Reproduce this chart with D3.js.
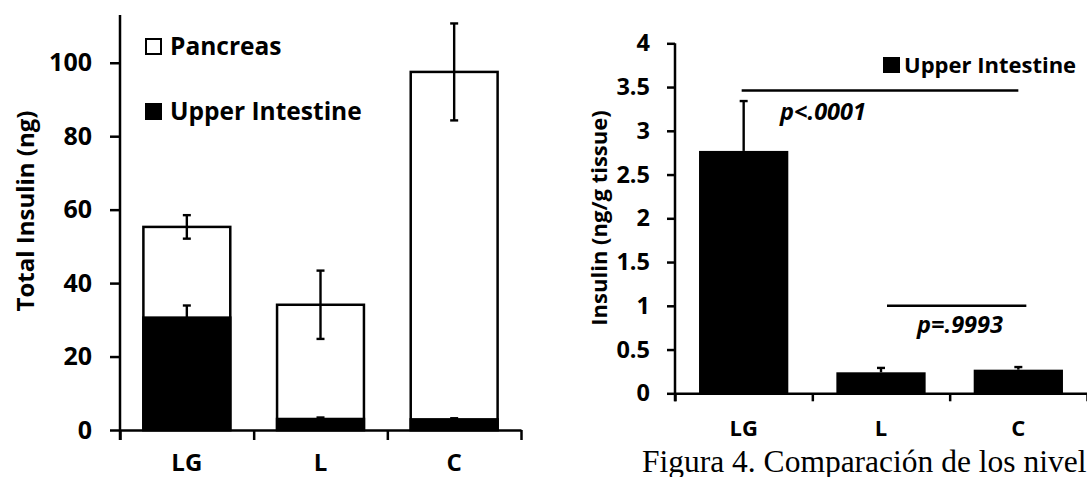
<!DOCTYPE html>
<html>
<head>
<meta charset="utf-8">
<script src="https://cdn.jsdelivr.net/npm/d3@7"></script>
<style>
  html, body { margin: 0; padding: 0; background: #fff; }
  svg { display: block; }
  text { font-family: "Open Sans", "DejaVu Sans", sans-serif; font-weight: bold; fill: #000; }
</style>
</head>
<body>
<svg id="chart" width="1087" height="477"></svg>
<script>
// ---------- data ----------
const categories = ["LG", "L", "C"];
// Left panel: total insulin (ng), stacked
const intestineTotal = [30.6, 3.0, 2.9];
const pancreasTotal = [24.7, 31.1, 94.6];
const intestineTotalErr = [3.3, 0.4, 0.3];
const sumErr = [3.2, 9.3, 13.2];
const leftTicks = [0, 20, 40, 60, 80, 100];
const leftTickLabels = ["0", "20", "40", "60", "80", "100"];
const leftSeries = ["Pancreas", "Upper Intestine"];

// Right panel: insulin concentration (ng/g tissue)
const intestineConc = [2.77, 0.24, 0.27];
const intestineConcErr = [0.57, 0.05, 0.03];
const rightTicks = [0, 0.5, 1, 1.5, 2, 2.5, 3, 3.5, 4];
const rightTickLabels = ["0", "0.5", "1", "1.5", "2", "2.5", "3", "3.5", "4"];
const rightSeries = ["Upper Intestine"];
const brackets = [
  { from: "LG", to: "C", y: 3.46, label: "p<.0001", labelY: 3.12 },
  { from: "L", to: "C", y: 1.0, label: "p=.9993", labelY: 0.69 }
];
const caption = "Figura 4. Comparación de los niveles";

// ---------- setup ----------
const svg = d3.select("#chart");

function styleAxis(g, w) {
  g.selectAll("path, line").attr("stroke", "#000").attr("stroke-width", w);
}

// ================= LEFT PANEL =================
(function () {
  const x0 = 120, x1 = 521, yBottom = 430, yTop = 15;
  const y = d3.scaleLinear().domain([0, 113]).range([yBottom, yTop]);
  const xb = d3.scaleBand().domain(categories).range([x0, x1])
    .paddingInner(0.35).paddingOuter(0.175);
  const xi = d3.scaleLinear().domain([0, categories.length]).range([x0, x1]);

  const g = svg.append("g");
  categories.forEach((c, i) => {
    const total = intestineTotal[i] + pancreasTotal[i];
    g.append("rect")
      .attr("x", xb(c)).attr("width", xb.bandwidth())
      .attr("y", y(total)).attr("height", y(0) - y(total))
      .attr("fill", "#fff").attr("stroke", "#000").attr("stroke-width", 2.5);
    g.append("rect")
      .attr("x", xb(c)).attr("width", xb.bandwidth())
      .attr("y", y(intestineTotal[i])).attr("height", y(0) - y(intestineTotal[i]))
      .attr("fill", "#000").attr("stroke", "#000").attr("stroke-width", 2.5);
  });

  function errBar(cx, v, e, cap) {
    g.append("line").attr("x1", cx).attr("x2", cx)
      .attr("y1", y(v + e)).attr("y2", y(v - e))
      .attr("stroke", "#000").attr("stroke-width", 2.4);
    [v + e, v - e].forEach(t => {
      g.append("line").attr("x1", cx - cap).attr("x2", cx + cap)
        .attr("y1", y(t)).attr("y2", y(t))
        .attr("stroke", "#000").attr("stroke-width", 2.4);
    });
  }
  categories.forEach((c, i) => {
    const cx = xb(c) + xb.bandwidth() / 2;
    errBar(cx, intestineTotal[i], intestineTotalErr[i], 4);
    errBar(cx, intestineTotal[i] + pancreasTotal[i], sumErr[i], 4);
  });

  const ya = svg.append("g").attr("transform", `translate(${x0},0)`)
    .call(d3.axisLeft(y).tickValues(leftTicks)
      .tickFormat((d, i) => leftTickLabels[i]).tickSize(10).tickSizeOuter(0).tickPadding(18));
  styleAxis(ya, 2.5);
  ya.selectAll("text").style("font-size", "25px");
  ya.select(".domain").attr("d", `M0,${yBottom + 10}V${yTop}`);

  const xa = svg.append("g").attr("transform", `translate(0,${yBottom})`)
    .call(d3.axisBottom(xi).tickValues([0, 1, 2, 3]).tickFormat("").tickSize(10).tickSizeOuter(0));
  styleAxis(xa, 2.5);
  const xl = svg.append("g").attr("transform", `translate(0,${yBottom})`)
    .call(d3.axisBottom(xb).tickSize(0).tickPadding(24));
  xl.select(".domain").remove();
  xl.selectAll("text").style("font-size", "24px");

  svg.append("text")
    .attr("transform", "translate(24,211) rotate(-90)")
    .attr("text-anchor", "middle").attr("dominant-baseline", "central")
    .style("font-size", "24px").text("Total Insulin (ng)");

  const leg = svg.append("g");
  leftSeries.forEach((s, i) => {
    const ly = 38 + i * 65;
    leg.append("rect").attr("x", 146).attr("y", ly + 1).attr("width", 15).attr("height", 15)
      .attr("fill", i === 0 ? "#fff" : "#000").attr("stroke", "#000").attr("stroke-width", 2);
    leg.append("text").attr("x", 170).attr("y", ly + 17)
      .style("font-size", "24.5px").text(s);
  });
})();

// ================= RIGHT PANEL =================
(function () {
  const x0 = 675, x1 = 1087, yBottom = 393.3, yTop = 43.3;
  const y = d3.scaleLinear().domain([0, 4]).range([yBottom, yTop]);
  const xb = d3.scaleBand().domain(categories).range([x0, x1])
    .paddingInner(0.35).paddingOuter(0.175);
  const xi = d3.scaleLinear().domain([0, categories.length]).range([x0, x1]);
  const cx = c => xb(c) + xb.bandwidth() / 2;

  const g = svg.append("g");
  categories.forEach((c, i) => {
    g.append("rect")
      .attr("x", xb(c)).attr("width", xb.bandwidth())
      .attr("y", y(intestineConc[i])).attr("height", y(0) - y(intestineConc[i]))
      .attr("fill", "#000");
    const top = intestineConc[i] + intestineConcErr[i];
    g.append("line").attr("x1", cx(c)).attr("x2", cx(c))
      .attr("y1", y(top)).attr("y2", y(intestineConc[i]))
      .attr("stroke", "#000").attr("stroke-width", 2.4);
    g.append("line").attr("x1", cx(c) - 4).attr("x2", cx(c) + 4)
      .attr("y1", y(top)).attr("y2", y(top))
      .attr("stroke", "#000").attr("stroke-width", 2.4);
  });

  brackets.forEach((b, k) => {
    const xa = cx(b.from) + (k === 0 ? -2 : 6);
    const xz = cx(b.to) + (k === 0 ? 0 : 8);
    g.append("line").attr("x1", xa).attr("x2", xz)
      .attr("y1", y(b.y)).attr("y2", y(b.y))
      .attr("stroke", "#000").attr("stroke-width", 2.4);
    g.append("text")
      .attr("x", k === 0 ? 823 : 960).attr("y", y(b.labelY))
      .attr("text-anchor", "middle")
      .style("font-size", "23.5px").style("font-style", "italic")
      .text(b.label);
  });

  const ya = svg.append("g").attr("transform", `translate(${x0},0)`)
    .call(d3.axisLeft(y).tickValues(rightTicks)
      .tickFormat((d, i) => rightTickLabels[i]).tickSize(8).tickSizeOuter(0).tickPadding(17));
  styleAxis(ya, 2.5);
  ya.selectAll("text").style("font-size", "23.5px");
  ya.select(".domain").attr("d", `M0,${yBottom + 8}V${yTop}`);

  const xa = svg.append("g").attr("transform", `translate(0,${yBottom})`)
    .call(d3.axisBottom(xi).tickValues([0, 1, 2, 3]).tickFormat("").tickSize(8).tickSizeOuter(0));
  styleAxis(xa, 2.5);
  const xl = svg.append("g").attr("transform", `translate(0,${yBottom})`)
    .call(d3.axisBottom(xb).tickSize(0).tickPadding(27));
  xl.select(".domain").remove();
  xl.selectAll("text").style("font-size", "22px");

  svg.append("text")
    .attr("transform", "translate(598,218) rotate(-90)")
    .attr("text-anchor", "middle").attr("dominant-baseline", "central")
    .style("font-size", "22px").text("Insulin (ng/g tissue)");

  rightSeries.forEach((s, i) => {
    svg.append("rect").attr("x", 883).attr("y", 57).attr("width", 17).attr("height", 16)
      .attr("fill", "#000");
    svg.append("text").attr("x", 904).attr("y", 73)
      .style("font-size", "22px").text(s);
  });

  svg.append("rect").attr("x", 600).attr("y", 437).attr("width", 487).attr("height", 40)
    .attr("fill", "#fff");
  svg.append("text").attr("x", 642).attr("y", 472)
    .style("font-family", "'Liberation Serif', 'DejaVu Serif', serif")
    .style("font-weight", "normal").style("font-size", "31.5px")
    .text(caption);
})();
</script>
</body>
</html>
